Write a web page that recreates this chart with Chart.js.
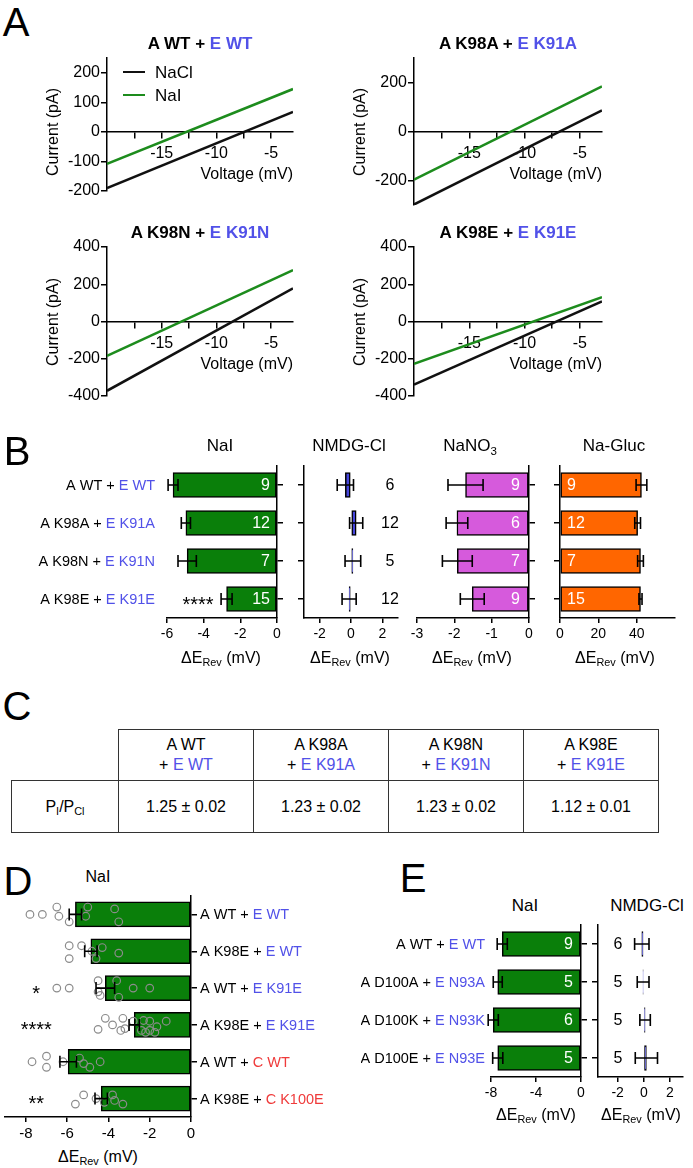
<!DOCTYPE html>
<html lang="en">
<head>
<meta charset="UTF-8">
<title>Anion selectivity of charge-swap mutants</title>
<script src="https://cdn.jsdelivr.net/npm/chart.js"></script>
<style>
  body { margin: 0; background: #fff; }
  #fig {
    position: relative; width: 693px; height: 1168px; overflow: hidden; background: #fff;
    font-family: "Liberation Sans", Arial, Helvetica, sans-serif; color: #000;
  }
  #fig canvas { position: absolute; }
  .t { position: absolute; white-space: nowrap; line-height: 1; }
  .blue { color: #5151e8; }
  .red { color: #ef3b3b; }
  sub { font-size: 0.68em; vertical-align: baseline; position: relative; top: 0.32em; }
  #perm {
    position: absolute; left: 11px; top: 729px; width: 647px;
    border-collapse: collapse; table-layout: fixed; font-size: 16px;
  }
  #perm td { border: 1.5px solid #333; text-align: center; padding: 0; }
  #perm tr.head td { height: 50px; line-height: 20px; }
  #perm tr.vals td { height: 51px; }
  #perm td.blank { border-top: none; border-left: none; }
</style>
</head>
<body>
<div id="fig"></div>
<script>
// ---- Panel A: I/V ramps, current (pA) at the two ends of the ramp ----
const rampMV = [-20, -3];
const ivTitles = [['A WT', 'E WT'], ['A K98A', 'E K91A'], ['A K98N', 'E K91N'], ['A K98E', 'E K91E']];
const ivNaCl = [[-190, 68], [-298, 86], [-372, 178], [-339, 108]];
const ivNaI = [[-108, 145], [-196, 184], [-184, 276], [-227, 130]];
const ivYRange = [[-200, 250], [-300, 300], [-400, 400], [-400, 400]];
const ivYTicks = [[-200, -100, 0, 100, 200], [-200, 0, 200], [-400, -200, 0, 200, 400], [-400, -200, 0, 200, 400]];
const ivXTicks = [-17.5, -15, -12.5, -10, -7.5, -5];

// ---- Panel B: change of reversal potential (mV) ----
const bRowsA = ['A WT', 'A K98A', 'A K98N', 'A K98E'];
const bRowsE = ['E WT', 'E K91A', 'E K91N', 'E K91E'];
const naiMean = [-5.67, -4.97, -4.9, -2.75];
const naiSem = [0.27, 0.25, 0.5, 0.3];
const naiN = ['9', '12', '7', '15'];
const naiStars = ['', '', '', '****'];
const nmdgMean = [-0.36, 0.33, 0.12, -0.12];
const nmdgSem = [0.52, 0.42, 0.5, 0.45];
const nmdgN = ['6', '12', '5', '12'];
const no3Mean = [-1.7, -1.93, -1.92, -1.52];
const no3Sem = [0.47, 0.29, 0.4, 0.32];
const no3N = ['9', '6', '7', '9'];
const glucMean = [42.5, 40.5, 42, 42];
const glucSem = [2.8, 1.5, 1.5, 0.8];
const glucN = ['9', '12', '7', '15'];

// ---- Panel C: permeability ratios ----
const permVal = ['1.25 ± 0.02', '1.23 ± 0.02', '1.23 ± 0.02', '1.12 ± 0.01'];

// ---- Panel D: NaI, single cells ----
const dRowsA = ['A WT', 'A K98E', 'A WT', 'A K98E', 'A WT', 'A K98E'];
const dRowsB = ['E WT', 'E WT', 'E K91E', 'E K91E', 'C WT', 'C K100E'];
const dMean = [-5.6, -4.85, -4.15, -2.75, -5.95, -4.35];
const dSem = [0.3, 0.3, 0.45, 0.25, 0.4, 0.3];
const dStars = ['', '', '*', '****', '', '**'];
const dCells = [
  [-7.8, -7.2, -6.5, -6.4, -5.9, -5.0, -5.1, -3.7, -3.5],
  [-5.9, -5.9, -5.3, -4.8, -4.6, -4.3, -3.5],
  [-6.5, -5.9, -4.5, -4.5, -4.4, -3.6, -3.5, -2.8, -2.0],
  [-4.5, -4.15, -3.8, -3.4, -3.3, -3.2, -2.8, -2.4, -2.3, -2.2, -2.0, -2.0, -1.75, -1.65, -1.2],
  [-7.7, -7.0, -7.0, -6.2, -5.4, -5.2, -4.9, -4.4],
  [-5.6, -5.2, -4.6, -4.2, -3.8, -3.7, -3.3]
];
const dJitter = [
  [0, 0, -0.2, 0.05, 0.2, -0.2, 0.05, -0.15, 0.2],
  [-0.15, 0.2, -0.15, 0, 0.2, -0.1, 0.05],
  [0, 0, -0.2, 0.1, 0.2, -0.2, 0.25, 0, 0],
  [0.12, -0.18, 0, 0.15, -0.18, 0.1, -0.1, 0.15, -0.12, 0.2, -0.1, 0.15, 0.2, 0.05, -0.1],
  [0, -0.15, 0.15, 0, -0.1, 0.05, 0.15, 0],
  [0.15, -0.1, 0, 0.1, -0.1, 0.05, 0.15]
];

// ---- Panel E ----
const eRowsA = ['A WT', 'A D100A', 'A D100K', 'A D100E'];
const eRowsE = ['E WT', 'E N93A', 'E N93K', 'E N93E'];
const eNaiMean = [-7.0, -7.4, -7.8, -7.4];
const eNaiSem = [0.45, 0.4, 0.45, 0.45];
const eNaiN = ['9', '5', '6', '5'];
const eNmdgMean = [-0.15, -0.05, 0.1, 0.2];
const eNmdgSem = [0.55, 0.45, 0.4, 0.85];
const eNmdgN = ['6', '5', '5', '5'];

const FONT = '"Liberation Sans", Arial, Helvetica, sans-serif';
const BLUE = '#5151e8', RED = '#ef3b3b';
const GREEN = '#0a7f0a', LINE_GREEN = '#1d8c1d';
Chart.defaults.font.family = FONT;
Chart.defaults.color = '#000';
Chart.defaults.animation = false;

const fig = document.getElementById('fig');

function canvasAt(x, y, w, h) {
  const c = document.createElement('canvas');
  c.width = w;
  c.height = h;
  c.style.cssText = `left:${x}px;top:${y}px;width:${w}px;height:${h}px`;
  fig.appendChild(c);
  return c;
}

function txt(html, x, y, css, tf) {
  const d = document.createElement('div');
  d.className = 't';
  d.innerHTML = html;
  d.style.cssText = `left:${x}px;top:${y}px;` + (css || '');
  d.style.transform = tf || 'translate(-50%,-50%)';
  fig.appendChild(d);
  return d;
}

const dE = 'ΔE<sub>Rev</sub> (mV)';
const axisLine = {display: true, color: '#000', width: 1.5};

// error bars, n numbers, row names and stars on top of the bars
function deco(c) {
  return {
    id: 'deco',
    afterDatasetsDraw(chart) {
      const {ctx, chartArea: a} = chart;
      const xs = chart.scales.x, ys = chart.scales.y;
      ctx.save();
      ctx.strokeStyle = '#000';
      ctx.lineWidth = 1.6;
      c.mean.forEach((m, i) => {
        const py = ys.getPixelForValue(i);
        const p1 = xs.getPixelForValue(m - c.sem[i]);
        const p2 = xs.getPixelForValue(m + c.sem[i]);
        ctx.beginPath();
        ctx.moveTo(p1, py); ctx.lineTo(p2, py);
        ctx.moveTo(p1, py - 6); ctx.lineTo(p1, py + 6);
        ctx.moveTo(p2, py - 6); ctx.lineTo(p2, py + 6);
        ctx.stroke();
      });
      ctx.textBaseline = 'middle';
      if (c.n) {
        ctx.font = '16px ' + FONT;
        ctx.fillStyle = c.nColor;
        ctx.textAlign = c.nAlign;
        const base = c.nFrom === 'zero' ? xs.getPixelForValue(0) : (c.nFrom === 'left' ? a.left : a.right);
        c.n.forEach((t, i) => ctx.fillText(t, base + c.nOff, ys.getPixelForValue(i) + 1));
      }
      if (c.rows) {
        ctx.font = '14.5px ' + FONT;
        ctx.textAlign = 'left';
        c.rows.forEach((parts, i) => {
          const py = ys.getPixelForValue(i) + 1;
          const w = parts.reduce((s, p) => s + ctx.measureText(p[0]).width, 0);
          let x = c.rowSide === 'left' ? a.left - c.rowGap - w : a.right + c.rowGap;
          parts.forEach(p => {
            ctx.fillStyle = p[1];
            ctx.fillText(p[0], x, py);
            x += ctx.measureText(p[0]).width;
          });
        });
      }
      if (c.stars) {
        ctx.font = '20px ' + FONT;
        ctx.fillStyle = '#000';
        ctx.textAlign = 'center';
        c.stars.forEach((s, i) => { if (s) ctx.fillText(s, a.left + 31, ys.getPixelForValue(i) + 6); });
      }
      ctx.restore();
    }
  };
}

function hbar(c) {
  const [L, T, R, B] = c.area;
  const m = c.m;
  const right = c.ySide === 'right';
  const cv = canvasAt(L - m[0], T - m[1], R - L + m[0] + m[2], B - T + m[1] + m[3]);
  const datasets = [{
    type: 'bar', order: 1,
    data: c.mean.map((v, i) => ({x: v, y: i})),
    backgroundColor: c.color, borderColor: '#000', borderWidth: 1.5,
    borderSkipped: false, barThickness: 25
  }];
  if (c.points) {
    datasets.unshift({
      type: 'scatter', order: 0, data: c.points,
      pointRadius: 3.8, pointBorderWidth: 1.2,
      borderColor: '#8c8c8c', backgroundColor: 'rgba(0,0,0,0)'
    });
  }
  new Chart(cv, {
    type: 'bar',
    data: {datasets},
    options: {
      indexAxis: 'y', responsive: false, animation: false, events: [],
      layout: {padding: {left: right ? m[0] : 0, right: right ? 0 : m[2], top: m[1], bottom: 0}},
      plugins: {legend: {display: false}, tooltip: {enabled: false}},
      scales: {
        x: {
          type: 'linear', position: 'bottom', min: c.xmin, max: c.xmax,
          afterFit: s => { s.height = m[3]; },
          afterBuildTicks: s => { s.ticks = c.xticks.map(v => ({value: v})); },
          ticks: {callback: v => String(v), font: {size: c.tickSize}, padding: 3, maxRotation: 0, autoSkip: false},
          grid: {display: true, drawOnChartArea: false, drawTicks: true, tickLength: 5, color: '#000', lineWidth: 1.5},
          border: axisLine
        },
        y: {
          type: 'linear', position: c.ySide, reverse: true, offset: false,
          min: -0.5, max: c.mean.length - 0.5,
          afterFit: s => { s.width = right ? m[2] : m[0]; },
          afterBuildTicks: s => { s.ticks = c.mean.map((v, i) => ({value: i})); },
          ticks: {display: false},
          grid: {display: true, offset: false, drawOnChartArea: false, drawTicks: true, tickLength: 6, color: '#000', lineWidth: 1.5},
          border: axisLine
        }
      }
    },
    plugins: [deco(c)]
  });
}

// ================= Panel A =================
txt('A', 16, 22, 'font-size:40px');
const ivAreas = [[107, 58, 293, 191], [414, 58, 602, 205], [107, 247, 293, 396], [414, 247, 602, 396]];
ivAreas.forEach((ar, k) => {
  const [L, T, R, B] = ar;
  const m = {l: 60, t: 14, r: 14, b: 14};
  const [ymin, ymax] = ivYRange[k];
  const cv = canvasAt(L - m.l, T - m.t, R - L + m.l + m.r, B - T + m.t + m.b);
  new Chart(cv, {
    type: 'line',
    data: {
      datasets: [
        {label: 'NaCl', data: rampMV.map((v, i) => ({x: v, y: ivNaCl[k][i]})), borderColor: '#111', borderWidth: 2.5, pointRadius: 0},
        {label: 'NaI', data: rampMV.map((v, i) => ({x: v, y: ivNaI[k][i]})), borderColor: LINE_GREEN, borderWidth: 2.5, pointRadius: 0}
      ]
    },
    options: {
      responsive: false, animation: false, events: [],
      layout: {padding: {left: 0, top: m.t, right: m.r, bottom: m.b}},
      plugins: {legend: {display: false}, tooltip: {enabled: false}},
      scales: {
        x: {
          type: 'linear', min: rampMV[0], max: rampMV[1], position: {y: 0},
          afterFit: s => { s.height = 0; },
          afterBuildTicks: s => { s.ticks = ivXTicks.map(v => ({value: v})); },
          ticks: {callback: v => (v % 5 === 0 ? String(v) : ''), font: {size: 16}, padding: 6, maxRotation: 0, autoSkip: false},
          grid: {display: true, drawOnChartArea: false, drawTicks: true, tickLength: 6, color: '#000', lineWidth: 1.5},
          border: axisLine
        },
        y: {
          type: 'linear', min: ymin, max: ymax,
          afterFit: s => { s.width = m.l; },
          afterBuildTicks: s => { s.ticks = ivYTicks[k].map(v => ({value: v})); },
          ticks: {callback: v => String(v), font: {size: 16}, padding: 1},
          grid: {display: true, drawOnChartArea: false, drawTicks: true, tickLength: 6, color: '#000', lineWidth: 1.5},
          border: axisLine
        }
      }
    }
  });
  const zero = T + (B - T) * ymax / (ymax - ymin);
  txt(`${ivTitles[k][0]} + <span class="blue">${ivTitles[k][1]}</span>`, (L + R) / 2, T - 15, 'font-size:17px;font-weight:bold');
  txt('Voltage (mV)', R, zero + 42, 'font-size:16px', 'translate(-100%,-50%)');
  txt('Current (pA)', L - 54, zero, 'font-size:16px', 'translate(-50%,-50%) rotate(-90deg)');
});
// legend of the first I/V plot
txt('', 123, 72, 'width:22px;border-top:2.5px solid #111', 'translate(0,-50%)');
txt('NaCl', 155, 72, 'font-size:17px', 'translate(0,-50%)');
txt('', 123, 95, `width:22px;border-top:2.5px solid ${LINE_GREEN}`, 'translate(0,-50%)');
txt('NaI', 155, 95, 'font-size:17px', 'translate(0,-50%)');

// ================= Panel B =================
txt('B', 17, 451, 'font-size:40px');
const bRows = bRowsA.map((a, i) => [[a + ' + ', '#000'], [bRowsE[i], BLUE]]);
hbar({area: [167, 466, 277, 618], m: [167, 10, 8, 30], ySide: 'right', xmin: -6, xmax: 0, xticks: [-6, -4, -2, 0], tickSize: 14,
  mean: naiMean, sem: naiSem, color: GREEN, n: naiN, nColor: '#fff', nAlign: 'right', nFrom: 'zero', nOff: -7,
  rows: bRows, rowSide: 'left', rowGap: 12, stars: naiStars});
hbar({area: [304, 466, 398, 618], m: [8, 10, 10, 30], ySide: 'left', xmin: -3, xmax: 3, xticks: [-2, 0, 2], tickSize: 14,
  mean: nmdgMean, sem: nmdgSem, color: '#4646dc', n: nmdgN, nColor: '#000', nAlign: 'center', nFrom: 'right', nOff: -8});
hbar({area: [417, 466, 529, 618], m: [10, 10, 8, 30], ySide: 'right', xmin: -3, xmax: 0, xticks: [-3, -2, -1, 0], tickSize: 14,
  mean: no3Mean, sem: no3Sem, color: '#d65adc', n: no3N, nColor: '#fff', nAlign: 'right', nFrom: 'zero', nOff: -9});
hbar({area: [560, 466, 675, 618], m: [8, 10, 10, 30], ySide: 'left', xmin: 0, xmax: 60, xticks: [0, 20, 40], tickSize: 14,
  mean: glucMean, sem: glucSem, color: '#ff6600', n: glucN, nColor: '#fff', nAlign: 'left', nFrom: 'zero', nOff: 7});
txt('NaI', 220, 445, 'font-size:17px');
txt('NMDG-Cl', 349, 445, 'font-size:17px');
txt('NaNO<sub>3</sub>', 470, 445, 'font-size:17px');
txt('Na-Gluc', 614, 445, 'font-size:17px');
[221, 350, 472, 615].forEach(x => txt(dE, x, 658, 'font-size:16px'));

// ================= Panel C =================
txt('C', 17, 706, 'font-size:40px');
const tbl = document.createElement('table');
tbl.id = 'perm';
let html = '<colgroup><col style="width:107px">' + '<col style="width:135px">'.repeat(4) + '</colgroup>';
html += '<tr class="head"><td class="blank"></td>' +
  ivTitles.map(t => `<td>${t[0]}<br>+ <span class="blue">${t[1]}</span></td>`).join('') + '</tr>';
html += '<tr class="vals"><td>P<sub>I</sub>/P<sub>Cl</sub></td>' + permVal.map(v => `<td>${v}</td>`).join('') + '</tr>';
tbl.innerHTML = html;
fig.appendChild(tbl);

// ================= Panel D =================
txt('D', 18, 881, 'font-size:40px');
const dPoints = [];
dCells.forEach((row, r) => row.forEach((v, j) => dPoints.push({x: v, y: r + dJitter[r][j]})));
hbar({area: [5, 896, 191, 1117], m: [5, 10, 150, 30], ySide: 'right', xmin: -9, xmax: 0, xticks: [-8, -6, -4, -2, 0], tickSize: 15,
  mean: dMean, sem: dSem, color: GREEN, points: dPoints,
  rows: dRowsA.map((a, i) => [[a + ' + ', '#000'], [dRowsB[i], dRowsB[i][0] === 'C' ? RED : BLUE]]),
  rowSide: 'right', rowGap: 9, stars: dStars});
txt('NaI', 98, 877, 'font-size:16px');
txt(dE, 98, 1157, 'font-size:16px');

// ================= Panel E =================
txt('E', 413, 878, 'font-size:40px');
hbar({area: [491, 925, 581, 1077], m: [130, 10, 8, 30], ySide: 'right', xmin: -8, xmax: 0, xticks: [-8, -4, 0], tickSize: 14,
  mean: eNaiMean, sem: eNaiSem, color: GREEN, n: eNaiN, nColor: '#fff', nAlign: 'right', nFrom: 'zero', nOff: -8,
  rows: eRowsA.map((a, i) => [[a + ' + ', '#000'], [eRowsE[i], BLUE]]), rowSide: 'left', rowGap: 6});
hbar({area: [598, 925, 683, 1077], m: [8, 10, 10, 30], ySide: 'left', xmin: -3.5, xmax: 3, xticks: [-2, 0, 2], tickSize: 14,
  mean: eNmdgMean, sem: eNmdgSem, color: '#4646dc', n: eNmdgN, nColor: '#000', nAlign: 'center', nFrom: 'left', nOff: 20});
txt('NaI', 525, 905, 'font-size:17px');
txt('NMDG-Cl', 647, 905, 'font-size:17px');
txt(dE, 536, 1115, 'font-size:16px');
txt(dE, 641, 1115, 'font-size:16px');
</script>
</body>
</html>
